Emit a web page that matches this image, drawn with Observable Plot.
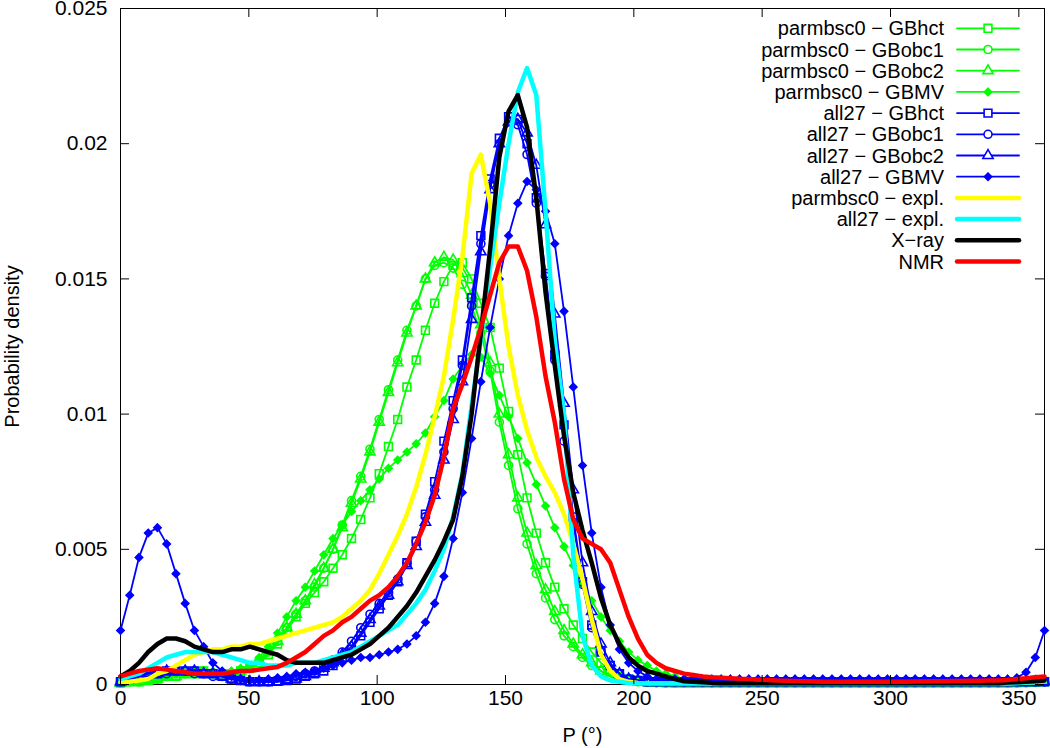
<!DOCTYPE html>
<html>
<head>
<meta charset="utf-8">
<script src="https://cdn.jsdelivr.net/npm/d3@7"></script>
<script src="https://cdn.jsdelivr.net/npm/@observablehq/plot@0.6"></script>
<style>
  body { margin: 0; background: #fff; }
  #chart { width: 1050px; height: 748px; }
</style>
</head>
<body>
<div id="chart"></div>
<script>
// Pseudorotation angle bins (3.6° grid, 0..360)
const angle = Array.from({length: 101}, (_, i) => Math.round(i * 36) / 10);

const xTicks = [0, 50, 100, 150, 200, 250, 300, 350];
const yTicks = [0, 0.005, 0.01, 0.015, 0.02, 0.025];
const xLabel = "P (°)";
const yLabel = "Probability density";

// parmbsc0 series
const pbGBhct = [
 0.00005,0.0001,0.0001,0.00015,0.0002,0.0003,0.0003,0.0004,0.0004,0.0005,
 0.0004,0.0004,0.0004,0.0005,0.0006,0.0008,0.0011,0.0015,0.0020,0.0025,
 0.0030,0.0034,0.0038,0.0043,0.0048,0.0054,0.0061,0.0069,0.0078,0.0088,
 0.0098,0.0110,0.0120,0.0131,0.0141,0.0149,0.0155,0.0156,0.0150,0.0141,
 0.0132,0.0117,0.0101,0.0085,0.0069,0.0056,0.0045,0.0036,0.0028,0.0022,
 0.0017,0.0012,0.0008,0.0005,0.0003,0.0002,0.00015,0.0001,0.00008,0.00006,
 5e-5,5e-5,5e-5,5e-5,5e-5,5e-5,5e-5,5e-5,5e-5,5e-5,
 5e-5,5e-5,5e-5,5e-5,5e-5,5e-5,5e-5,5e-5,5e-5,5e-5,
 5e-5,5e-5,5e-5,5e-5,5e-5,5e-5,5e-5,5e-5,5e-5,5e-5,
 5e-5,5e-5,5e-5,5e-5,5e-5,5e-5,5e-5,0.00006,0.00007,0.00008,
 0.0001];
const pbGBobc1 = [
 0.00005,0.0001,0.0001,0.0002,0.0002,0.0003,0.0004,0.0004,0.0005,0.0005,
 0.0004,0.0004,0.0004,0.0005,0.0006,0.0008,0.0012,0.0016,0.0021,0.0026,
 0.0031,0.0036,0.0043,0.0050,0.0059,0.0068,0.0077,0.0087,0.0098,0.0109,
 0.0120,0.0131,0.0140,0.0150,0.0155,0.0156,0.0154,0.0148,0.0140,0.0130,
 0.0116,0.0097,0.0081,0.0065,0.0052,0.0041,0.0032,0.0024,0.0018,0.0014,
 0.0010,0.0007,0.0005,0.0003,0.0002,0.00015,0.0001,0.00008,0.00006,5e-5,
 5e-5,5e-5,5e-5,5e-5,5e-5,5e-5,5e-5,5e-5,5e-5,5e-5,
 5e-5,5e-5,5e-5,5e-5,5e-5,5e-5,5e-5,5e-5,5e-5,5e-5,
 5e-5,5e-5,5e-5,5e-5,5e-5,5e-5,5e-5,5e-5,5e-5,5e-5,
 5e-5,5e-5,5e-5,5e-5,5e-5,5e-5,5e-5,0.00006,0.00007,0.00008,
 0.0001];
const pbGBobc2 = [
 0.00005,0.0001,0.0001,0.00015,0.0002,0.0003,0.0003,0.0004,0.0004,0.0004,
 0.0004,0.0004,0.0004,0.0005,0.0006,0.0009,0.0012,0.0016,0.0021,0.0026,
 0.0031,0.0037,0.0043,0.0050,0.0058,0.0067,0.0076,0.0086,0.0097,0.0108,
 0.0119,0.0130,0.0140,0.0150,0.0156,0.0158,0.0157,0.0152,0.0144,0.0133,
 0.0119,0.0100,0.0085,0.0069,0.0056,0.0044,0.0035,0.0027,0.0020,0.0015,
 0.0011,0.0008,0.0005,0.0003,0.0002,0.00015,0.0001,0.00008,0.00006,5e-5,
 5e-5,5e-5,5e-5,5e-5,5e-5,5e-5,5e-5,5e-5,5e-5,5e-5,
 5e-5,5e-5,5e-5,5e-5,5e-5,5e-5,5e-5,5e-5,5e-5,5e-5,
 5e-5,5e-5,5e-5,5e-5,5e-5,5e-5,5e-5,5e-5,5e-5,5e-5,
 5e-5,5e-5,5e-5,5e-5,5e-5,5e-5,5e-5,0.00006,0.00007,0.00008,
 0.0001];
const pbGBMV = [
 0.00005,0.0001,0.0001,0.0002,0.0002,0.0003,0.0004,0.0004,0.0005,0.0005,
 0.0005,0.0004,0.0005,0.0006,0.0007,0.0010,0.0014,0.0019,0.0025,0.0031,
 0.0036,0.0042,0.0048,0.0054,0.0059,0.0064,0.0068,0.0072,0.0076,0.0080,
 0.0083,0.0086,0.0089,0.0093,0.0099,0.0105,0.0113,0.0118,0.0122,0.0121,
 0.0115,0.0107,0.0099,0.0091,0.0082,0.0074,0.0066,0.0058,0.0051,0.0044,
 0.0037,0.0031,0.0025,0.0020,0.0016,0.0012,0.0009,0.0007,0.0005,0.0004,
 0.0003,0.0002,0.00015,0.0001,0.00008,0.00006,5e-5,5e-5,5e-5,5e-5,
 5e-5,5e-5,5e-5,5e-5,5e-5,5e-5,5e-5,5e-5,5e-5,5e-5,
 5e-5,5e-5,5e-5,5e-5,5e-5,5e-5,5e-5,5e-5,5e-5,5e-5,
 5e-5,5e-5,5e-5,5e-5,5e-5,5e-5,5e-5,0.00006,0.00007,0.00008,
 0.0001];

// all27 series
const a27GBhct = [
 0.0001,0.0002,0.0003,0.0004,0.0004,0.0005,0.0005,0.0005,0.0005,0.0004,
 0.0004,0.0003,0.0002,0.00015,0.0001,0.0001,0.0001,0.00012,0.00015,0.0002,
 0.0003,0.0004,0.0005,0.0007,0.0010,0.0013,0.0018,0.0023,0.0028,0.0033,
 0.0038,0.0045,0.0053,0.0063,0.0075,0.0090,0.0105,0.0120,0.0143,0.0166,
 0.0187,0.0202,0.0210,0.0209,0.0200,0.0180,0.0152,0.0122,0.0096,0.0062,
 0.0038,0.0022,0.0012,0.0007,0.0004,0.0002,0.00015,0.0001,0.0001,0.0001,
 0.0001,0.0001,0.0001,0.0001,0.0001,0.0001,0.0001,0.0001,0.0001,0.0001,
 0.0001,0.0001,0.0001,0.0001,0.0001,0.0001,0.0001,0.0001,0.0001,0.0001,
 0.0001,0.0001,0.0001,0.0001,0.0001,0.0001,0.0001,0.0001,0.0001,0.0001,
 0.0001,0.0001,0.0001,0.0001,0.0001,0.0001,0.0001,0.0001,0.0001,0.0001,
 0.0001];
const a27GBobc1 = [
 0.0001,0.0002,0.0003,0.0003,0.0004,0.0004,0.0005,0.0005,0.0004,0.0004,
 0.0003,0.0003,0.0002,0.00015,0.0001,0.0001,0.0001,0.00012,0.0002,0.0003,
 0.0004,0.0005,0.0007,0.0009,0.0012,0.0016,0.0021,0.0026,0.0030,0.0034,
 0.0039,0.0045,0.0053,0.0062,0.0072,0.0086,0.0102,0.0118,0.0140,0.0163,
 0.0185,0.0200,0.0208,0.0207,0.0196,0.0178,0.0151,0.0120,0.0090,0.0060,
 0.0037,0.0021,0.0012,0.0007,0.0004,0.0002,0.00015,0.0001,0.0001,0.0001,
 0.0001,0.0001,0.0001,0.0001,0.0001,0.0001,0.0001,0.0001,0.0001,0.0001,
 0.0001,0.0001,0.0001,0.0001,0.0001,0.0001,0.0001,0.0001,0.0001,0.0001,
 0.0001,0.0001,0.0001,0.0001,0.0001,0.0001,0.0001,0.0001,0.0001,0.0001,
 0.0001,0.0001,0.0001,0.0001,0.0001,0.0001,0.0001,0.0001,0.0001,0.0001,
 0.0001];
const a27GBobc2 = [
 0.0001,0.0002,0.0003,0.0004,0.0004,0.0005,0.0005,0.0005,0.0005,0.0004,
 0.0004,0.0003,0.0002,0.00015,0.0001,0.0001,0.0001,0.0001,0.00015,0.0002,
 0.0003,0.0004,0.0006,0.0008,0.0011,0.0014,0.0019,0.0024,0.0029,0.0033,
 0.0038,0.0044,0.0051,0.0060,0.0070,0.0083,0.0098,0.0112,0.0135,0.0160,
 0.0183,0.0200,0.0208,0.0209,0.0204,0.0192,0.0170,0.0137,0.0104,0.0072,
 0.0045,0.0027,0.0015,0.0008,0.0004,0.0002,0.00015,0.0001,0.0001,0.0001,
 0.0001,0.0001,0.0001,0.0001,0.0001,0.0001,0.0001,0.0001,0.0001,0.0001,
 0.0001,0.0001,0.0001,0.0001,0.0001,0.0001,0.0001,0.0001,0.0001,0.0001,
 0.0001,0.0001,0.0001,0.0001,0.0001,0.0001,0.0001,0.0001,0.0001,0.0001,
 0.0001,0.0001,0.0001,0.0001,0.0001,0.0001,0.0001,0.0001,0.0001,0.0001,
 0.0001];
const a27GBMV = [
 0.0020,0.0033,0.0047,0.0056,0.0058,0.0052,0.0041,0.0030,0.0020,0.0014,
 0.0008,0.0005,0.0003,0.0002,0.00015,0.00015,0.0002,0.00025,0.0003,0.0004,
 0.00045,0.0005,0.0006,0.0007,0.0008,0.0009,0.0010,0.0010,0.0011,0.0012,
 0.0013,0.0015,0.0018,0.0023,0.0030,0.0040,0.0054,0.0071,0.0091,0.0112,
 0.0132,0.0150,0.0166,0.0178,0.0186,0.0183,0.0175,0.0163,0.0138,0.0110,
 0.0081,0.0056,0.0036,0.0022,0.0013,0.0008,0.0005,0.0003,0.0002,0.0002,
 0.0002,0.0002,0.0002,0.0002,0.0002,0.0002,0.0002,0.0002,0.0002,0.0002,
 0.0002,0.0002,0.0002,0.0002,0.0002,0.0002,0.0002,0.0002,0.0002,0.0002,
 0.0002,0.0002,0.0002,0.0002,0.0002,0.0002,0.0002,0.0002,0.0002,0.0002,
 0.0002,0.0002,0.0002,0.0002,0.0002,0.0002,0.0002,0.00025,0.00045,0.0010,
 0.0020];

// explicit-solvent and experimental series
const pbExpl = [
 0.0001,0.0001,0.00015,0.0002,0.0004,0.0005,0.0007,0.0009,0.0011,0.0012,
 0.0013,0.0013,0.0014,0.0014,0.0015,0.0015,0.0016,0.0017,0.0018,0.0019,
 0.0020,0.0021,0.0022,0.0023,0.0025,0.0028,0.0031,0.0035,0.0041,0.0048,
 0.0055,0.0063,0.0073,0.0085,0.0099,0.0114,0.0135,0.0158,0.0189,0.0196,
 0.0178,0.0150,0.0125,0.0107,0.0094,0.0084,0.0077,0.0071,0.0063,0.0052,
 0.0039,0.0024,0.0011,0.0005,0.0002,0.0001,0.00006,5e-5,5e-5,5e-5,
 5e-5,5e-5,5e-5,5e-5,5e-5,5e-5,5e-5,5e-5,5e-5,5e-5,
 5e-5,5e-5,5e-5,5e-5,5e-5,5e-5,5e-5,5e-5,5e-5,5e-5,
 5e-5,5e-5,5e-5,5e-5,5e-5,5e-5,5e-5,5e-5,5e-5,5e-5,
 5e-5,5e-5,5e-5,5e-5,5e-5,5e-5,5e-5,0.00006,0.00007,0.00008,
 0.0001];
const a27Expl = [
 0.0002,0.0003,0.0004,0.0006,0.0008,0.0010,0.0011,0.0012,0.0012,0.0012,
 0.0012,0.0011,0.0010,0.0009,0.0008,0.0008,0.0007,0.0007,0.0007,0.0008,
 0.0008,0.0008,0.0009,0.0010,0.0011,0.0012,0.0014,0.0016,0.0018,0.0020,
 0.0022,0.0026,0.0030,0.0035,0.0042,0.0050,0.0062,0.0078,0.0103,0.0128,
 0.0154,0.0178,0.0200,0.0219,0.0228,0.0218,0.0175,0.0127,0.0100,0.0048,
 0.0018,0.0007,0.0003,0.00015,0.0001,5e-5,5e-5,5e-5,5e-5,5e-5,
 5e-5,5e-5,5e-5,5e-5,5e-5,5e-5,5e-5,5e-5,5e-5,5e-5,
 5e-5,5e-5,5e-5,5e-5,5e-5,5e-5,5e-5,5e-5,5e-5,5e-5,
 5e-5,5e-5,5e-5,5e-5,5e-5,5e-5,5e-5,5e-5,5e-5,5e-5,
 5e-5,5e-5,5e-5,5e-5,5e-5,5e-5,5e-5,0.00006,0.00007,0.00008,
 0.0001];
const xray = [
 0.0003,0.0005,0.0008,0.0012,0.0015,0.0017,0.0017,0.0016,0.0014,0.0013,
 0.0012,0.0012,0.0013,0.0013,0.0014,0.0013,0.0012,0.0011,0.0009,0.0008,
 0.0008,0.0008,0.0008,0.0009,0.0010,0.0011,0.0013,0.0015,0.0018,0.0021,
 0.0025,0.0029,0.0034,0.0040,0.0046,0.0053,0.0061,0.0077,0.0100,0.0130,
 0.0161,0.0195,0.0212,0.0218,0.0206,0.0180,0.0145,0.0118,0.0092,0.0071,
 0.0057,0.0045,0.0032,0.0022,0.0015,0.0010,0.0007,0.0005,0.0004,0.0003,
 0.0002,0.00012,0.0001,0.00008,0.00006,5e-5,5e-5,5e-5,5e-5,5e-5,
 5e-5,5e-5,5e-5,5e-5,5e-5,5e-5,5e-5,5e-5,5e-5,5e-5,
 5e-5,5e-5,5e-5,5e-5,5e-5,5e-5,5e-5,5e-5,5e-5,5e-5,
 5e-5,5e-5,5e-5,5e-5,5e-5,5e-5,0.00007,0.00008,0.0001,0.00012,
 0.00015];
const nmr = [
 0.0003,0.0004,0.0005,0.00055,0.0006,0.00055,0.0005,0.00045,0.0004,0.0004,
 0.0004,0.0004,0.00045,0.0005,0.0005,0.00055,0.0006,0.00065,0.0008,0.0010,
 0.0012,0.0015,0.0018,0.0020,0.0023,0.0025,0.0028,0.0031,0.0033,0.0036,
 0.0040,0.0045,0.0052,0.0060,0.0070,0.0084,0.0102,0.0111,0.0121,0.0132,
 0.0144,0.0156,0.0162,0.0162,0.0153,0.0136,0.0114,0.0097,0.0076,0.0061,
 0.0054,0.0052,0.0050,0.0045,0.0035,0.0025,0.0017,0.0011,0.0008,0.0006,
 0.0005,0.0004,0.00035,0.0003,0.00027,0.00025,0.00023,0.00021,0.0002,0.00018,
 0.00017,0.00015,0.00014,0.00013,0.00012,0.00011,0.0001,0.0001,0.0001,0.0001,
 0.0001,0.0001,0.0001,0.0001,0.0001,0.0001,0.00011,0.00011,0.00012,0.00012,
 0.00013,0.00013,0.00014,0.00014,0.00015,0.00015,0.00017,0.0002,0.00023,0.00027,
 0.0003];

const GREEN = "#00ff00", BLUE = "#0000ff", YELLOW = "#ffff00", CYAN = "#00ffff", BLACK = "#000000", RED = "#ff0000";
const FONT = "'Liberation Sans', Arial, Helvetica, sans-serif";

const series = [
  {label: "parmbsc0 − GBhct", values: pbGBhct, color: GREEN, symbol: "square", r: 4.4, filled: false},
  {label: "parmbsc0 − GBobc1", values: pbGBobc1, color: GREEN, symbol: "circle", r: 4, filled: false},
  {label: "parmbsc0 − GBobc2", values: pbGBobc2, color: GREEN, symbol: "triangle", r: 3.8, filled: false},
  {label: "parmbsc0 − GBMV", values: pbGBMV, color: GREEN, symbol: "diamond2", r: 3.3, filled: true},
  {label: "all27 − GBhct", values: a27GBhct, color: BLUE, symbol: "square", r: 4.4, filled: false},
  {label: "all27 − GBobc1", values: a27GBobc1, color: BLUE, symbol: "circle", r: 4, filled: false},
  {label: "all27 − GBobc2", values: a27GBobc2, color: BLUE, symbol: "triangle", r: 3.8, filled: false},
  {label: "all27 − GBMV", values: a27GBMV, color: BLUE, symbol: "diamond2", r: 3.3, filled: true},
  {label: "parmbsc0 − expl.", values: pbExpl, color: YELLOW, thick: true},
  {label: "all27 − expl.", values: a27Expl, color: CYAN, thick: true},
  {label: "X−ray", values: xray, color: BLACK, thick: true},
  {label: "NMR", values: nmr, color: RED, thick: true}
];

const W = 1050, H = 748, mT = 8, mR = 6, mB = 64, mL = 120;
const plotW = W - mL - mR, plotH = H - mT - mB;
const TICK = 9;
const TICKFONT = 21, LABELFONT = 20, LEGENDFONT = 20;

const marks = [Plot.frame({stroke: "black", strokeWidth: 1})];
for (const s of series) {
  const data = angle.map((x, i) => ({x, y: s.values[i]}));
  if (s.thick) {
    marks.push(Plot.line(data, {x: "x", y: "y", stroke: s.color, strokeWidth: 4.5}));
  } else {
    marks.push(Plot.line(data, {x: "x", y: "y", stroke: s.color, strokeWidth: 1.8}));
    marks.push(Plot.dot(data, {x: "x", y: "y", symbol: s.symbol, r: s.r,
      stroke: s.color, strokeWidth: 1.6, fill: s.filled ? s.color : "none"}));
  }
}
// inward ticks on all four sides
marks.push(Plot.tickX(xTicks, {x: d => d, insetTop: plotH - TICK, stroke: "black"}));
marks.push(Plot.tickX(xTicks, {x: d => d, insetBottom: plotH - TICK, stroke: "black"}));
marks.push(Plot.tickY(yTicks, {y: d => d, insetRight: plotW - TICK, stroke: "black"}));
marks.push(Plot.tickY(yTicks, {y: d => d, insetLeft: plotW - TICK, stroke: "black"}));
marks.push(Plot.axisX({ticks: xTicks, tickSize: 0, tickPadding: 6, fontSize: TICKFONT, label: null, tickFormat: d => String(d)}));
marks.push(Plot.axisY({ticks: yTicks, tickSize: 0, tickPadding: 13, fontSize: TICKFONT, label: null, tickFormat: d => String(d)}));
marks.push(Plot.text([xLabel], {text: d => d, frameAnchor: "bottom", textAnchor: "middle", dy: 51, fontSize: LABELFONT, lineAnchor: "middle"}));
marks.push(Plot.text([yLabel], {text: d => d, frameAnchor: "left", textAnchor: "middle", dx: -108, rotate: -90, fontSize: LABELFONT, lineAnchor: "middle"}));

const svg = Plot.plot({
  width: W, height: H,
  marginTop: mT, marginRight: mR, marginBottom: mB, marginLeft: mL,
  x: {domain: [0, 360]},
  y: {domain: [0, 0.025]},
  style: {fontFamily: FONT, fontSize: "20px", background: "white", color: "black", overflow: "visible"},
  marks
});

// legend (inside top-right, gnuplot style)
const symTypes = {square: d3.symbolSquare, circle: d3.symbolCircle, triangle: d3.symbolTriangle, diamond2: d3.symbolDiamond2};
const leg = d3.select(svg).append("g").attr("font-family", FONT).attr("font-size", LEGENDFONT);
series.forEach((s, k) => {
  const y = 28.3 + 21.2 * k;
  leg.append("text").attr("x", 944).attr("y", y).attr("dy", "0.35em")
    .attr("text-anchor", "end").attr("fill", "black").text(s.label);
  leg.append("line").attr("x1", 957).attr("x2", 1019).attr("y1", y).attr("y2", y)
    .attr("stroke", s.color).attr("stroke-width", s.thick ? 4.5 : 1.8).attr("stroke-linecap", "round");
  if (!s.thick) {
    leg.append("path").attr("transform", `translate(988,${y})`)
      .attr("d", d3.symbol(symTypes[s.symbol], Math.PI * s.r * s.r)())
      .attr("stroke", s.color).attr("stroke-width", 1.6)
      .attr("fill", s.filled ? s.color : "white");
  }
});

document.getElementById("chart").appendChild(svg);
</script>
</body>
</html>
